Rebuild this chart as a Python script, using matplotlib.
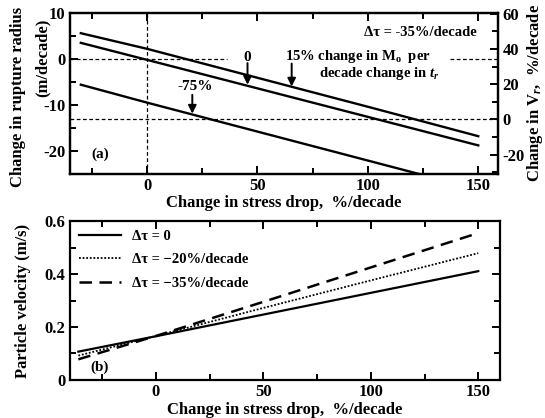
import numpy as np
import matplotlib
matplotlib.use('Agg')
import matplotlib.pyplot as plt
from matplotlib.ticker import MultipleLocator, FixedLocator, FixedFormatter

plt.rcParams['font.family'] = ['Liberation Serif', 'DejaVu Serif']
plt.rcParams['font.weight'] = 'bold'
plt.rcParams['axes.labelweight'] = 'bold'
plt.rcParams['axes.unicode_minus'] = False
plt.rcParams['mathtext.fontset'] = 'custom'
plt.rcParams['mathtext.rm'] = 'Liberation Serif:bold'
plt.rcParams['mathtext.it'] = 'Liberation Serif:italic:bold'
plt.rcParams['mathtext.bf'] = 'Liberation Serif:bold'

# panel (a): change in rupture radius vs change in stress drop
xa = [-30, 0, 50, 100, 150]
r_15 = [5.6, 2.2, -4.1, -10.4, -16.8]     # 15% change in Mo per decade change in tr
r_0 = [3.5, -0.2, -6.4, -12.6, -18.8]     # 0
r_m75 = [-5.6, -9.5, -15.8, -22.1, -28.4] # -75%

# panel (b): particle velocity
xb = [-36, 0, 50, 100, 150]
v_0 = [0.107, 0.165, 0.247, 0.329, 0.411]
v_20 = [0.092, 0.166, 0.272, 0.376, 0.479]
v_35 = [0.078, 0.166, 0.295, 0.425, 0.555]
leg_labels = ['Δτ = 0', 'Δτ = −20%/decade', 'Δτ = −35%/decade']

fig = plt.figure(figsize=(5.45, 4.18), dpi=100)
ax1 = fig.add_axes([0.128, 0.584, 0.786, 0.385])
ax2 = fig.add_axes([0.128, 0.091, 0.789, 0.380])

def style(ax):
    for s in ax.spines.values():
        s.set_linewidth(1.6)
    ax.tick_params(which='both', direction='in', top=True, labelsize=12, width=1.4, pad=3)
    ax.tick_params(which='major', length=6)
    ax.tick_params(which='minor', length=4)
    for t in ax.get_xticklabels() + ax.get_yticklabels():
        t.set_fontweight('bold')

# ---- panel (a)
ax1.plot(xa, r_15, color='k', lw=1.7)
ax1.plot(xa, r_0, color='k', lw=1.7)
ax1.plot(xa, r_m75, color='k', lw=1.7)
ax1.set_xlim(-35, 159)
ax1.set_ylim(-25, 10)
ax1.xaxis.set_major_locator(MultipleLocator(50))
ax1.xaxis.set_minor_locator(MultipleLocator(25))
ax1.yaxis.set_major_locator(MultipleLocator(10))
ax1.yaxis.set_minor_locator(MultipleLocator(5))
ax1.axvline(0, color='k', ls=(0, (3, 2)), lw=0.9)
ax1.hlines(0, -35, 36, color='k', linestyles=(0, (3, 2)), lw=0.9)
ax1.hlines(0, 137, 159, color='k', linestyles=(0, (3, 2)), lw=0.9)
ax1.set_xlabel('Change in stress drop,  %/decade', fontsize=12, labelpad=1)
style(ax1)
# two-line y label, second line offset upward as in the original
fig.text(0.033, 0.768, 'Change in rupture radius', rotation=90, ha='center', va='center', fontsize=12)
fig.text(0.079, 0.862, '(m/decade)', rotation=90, ha='center', va='center', fontsize=12)

axr = ax1.twinx()
axr.set_ylim(-31, 60.5)
axr.yaxis.set_major_locator(MultipleLocator(20))
axr.yaxis.set_minor_locator(MultipleLocator(10))
axr.axhline(0, color='k', ls=(0, (3, 2)), lw=0.9)
axr.tick_params(which='both', direction='in', labelsize=12, width=1.4, pad=3)
axr.tick_params(which='major', length=6)
axr.tick_params(which='minor', length=4)
for t in axr.get_yticklabels():
    t.set_fontweight('bold')
axr.set_ylabel('Change in V$_r$,  %/decade', fontsize=12, labelpad=0)
for s in axr.spines.values():
    s.set_linewidth(1.6)

arrow = dict(arrowstyle='-|>', color='k', lw=1.4, mutation_scale=12, shrinkA=0, shrinkB=0)
ax1.annotate('', xy=(45.5, -5.6), xytext=(45.5, -0.9), arrowprops=arrow)
ax1.text(45.5, 0.4, '0', ha='center', va='center', fontsize=11)
ax1.annotate('', xy=(65.5, -6.0), xytext=(65.5, -1.0), arrowprops=arrow)
ax1.text(62.3, 0.6, '15% change in M$_\\mathregular{o}$  per', ha='left', va='center', fontsize=10.5)
ax1.text(77.7, -3.1, 'decade change in $t_r$', ha='left', va='center', fontsize=10.5)
ax1.annotate('', xy=(20.5, -11.9), xytext=(20.5, -7.8), arrowprops=arrow)
ax1.text(22, -6.1, '-75%', ha='center', va='center', fontsize=11)
ax1.text(0.951, 0.88, 'Δτ = -35%/decade', transform=ax1.transAxes, ha='right', va='center', fontsize=10.5)
ax1.text(0.07, 0.12, '(a)', transform=ax1.transAxes, ha='center', va='center', fontsize=11)

# ---- panel (b)
ax2.plot(xb, v_0, color='k', lw=1.6, ls='-', label=leg_labels[0])
ax2.plot(xb, v_20, color='k', lw=1.3, ls=(0, (1, 1)), label=leg_labels[1])
ax2.plot(xb, v_35, color='k', lw=1.8, ls=(0, (5, 3)), label=leg_labels[2])
ax2.set_xlim(-40, 160)
ax2.set_ylim(0, 0.6)
ax2.xaxis.set_major_locator(MultipleLocator(50))
ax2.xaxis.set_minor_locator(MultipleLocator(25))
ax2.yaxis.set_major_locator(FixedLocator([0, 0.2, 0.4, 0.6]))
ax2.yaxis.set_major_formatter(FixedFormatter(['0', '0.2', '0.4', '0.6']))
ax2.yaxis.set_minor_locator(MultipleLocator(0.1))
ax2.tick_params(which='both', right=True)
ax2.set_xlabel('Change in stress drop,  %/decade', fontsize=12, labelpad=1)
ax2.set_ylabel('Particle velocity (m/s)', fontsize=12, labelpad=10)
style(ax2)
leg = ax2.legend(loc='upper left', frameon=False, fontsize=10.5, handlelength=2.9,
                 handletextpad=0.8, labelspacing=0.7, borderaxespad=0.2)
ax2.text(0.07, 0.08, '(b)', transform=ax2.transAxes, ha='center', va='center', fontsize=11)

fig.savefig('out.png', dpi=100)
